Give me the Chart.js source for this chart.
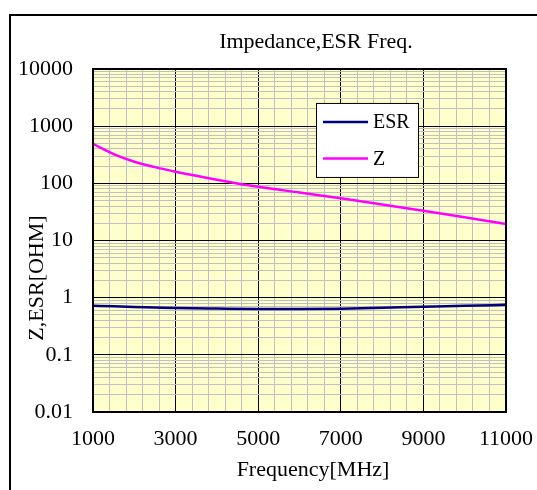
<!DOCTYPE html>
<html>
<head>
<meta charset="utf-8">
<script src="https://cdn.jsdelivr.net/npm/chart.js@4.4.0/dist/chart.umd.min.js"></script>
<style>
  html, body { margin: 0; padding: 0; background: #fff; overflow: hidden; }
  #wrap { position: relative; width: 537px; height: 490px; overflow: hidden; }
  #frame { position: absolute; left: 9px; top: 14px; width: 600px; height: 600px; border-left: 2px solid #000; border-top: 2px solid #000; box-sizing: border-box; }
  canvas { position: absolute; left: 0; top: 0; }
</style>
</head>
<body>
<div id="wrap">
  <div id="frame"></div>
  <canvas id="chart" width="537" height="490"></canvas>
</div>
<script>
// ==================== DATA ====================
const freqs = [1000, 1500, 2000, 2500, 3000, 4000, 5000, 6000, 7000, 8000, 9000, 10000, 11000];
const zValues = [488, 324, 239, 192, 160, 116, 87, 69, 55, 42.6, 33.2, 25.5, 19.4];
const esrValues = [0.72, 0.705, 0.69, 0.675, 0.66, 0.645, 0.635, 0.635, 0.64, 0.665, 0.695, 0.72, 0.75];
const xTickLabels = ["1000", "3000", "5000", "7000", "9000", "11000"];
const yTickLabels = ["0.01", "0.1", "1", "10", "100", "1000", "10000"];

const chartTitle = "Impedance,ESR Freq.";
const xTitle = "Frequency[MHz]";
const yTitle = "Z,ESR[OHM]";

const FONT = "'Liberation Serif', 'Times New Roman', serif";

// ==================== PLUGINS ====================
const plotBackground = {
  id: "plotBackground",
  beforeDraw(chart) {
    const { ctx, chartArea: a } = chart;
    ctx.save();
    ctx.fillStyle = "#FFFFCC";
    ctx.fillRect(a.left, a.top, a.right - a.left, a.bottom - a.top);
    ctx.restore();
  }
};

const plotDecor = {
  id: "plotDecor",
  afterDraw(chart) {
    const { ctx, chartArea: a } = chart;
    ctx.save();
    // plot border
    ctx.strokeStyle = "#000";
    ctx.lineWidth = 2;
    ctx.strokeRect(a.left, a.top, a.right - a.left, a.bottom - a.top);

    // titles
    ctx.fillStyle = "#000";
    ctx.font = "22px " + FONT;
    ctx.textAlign = "center";
    ctx.textBaseline = "middle";
    ctx.fillText(chartTitle, 316, 42);
    ctx.fillText(xTitle, 313, 470);
    ctx.save();
    ctx.translate(37, 278);
    ctx.rotate(-Math.PI / 2);
    ctx.fillText(yTitle, 0, 0);
    ctx.restore();

    // legend box
    const w = a.right - a.left, h = a.bottom - a.top;
    const lx = a.left + w * 0.54, ly = a.top + h * 0.099;
    const lw = 102, lh = 74;
    ctx.fillStyle = "#fff";
    ctx.fillRect(lx, ly, lw, lh);
    ctx.strokeStyle = "#000";
    ctx.lineWidth = 1;
    ctx.strokeRect(lx + 0.5, ly + 0.5, lw, lh);
    ctx.font = "20px " + FONT;
    ctx.textAlign = "left";
    chart.data.datasets.forEach((ds, i) => {
      const yy = ly + 19 + i * 36.5;
      ctx.strokeStyle = ds.borderColor;
      ctx.lineWidth = 2.5;
      ctx.beginPath();
      ctx.moveTo(lx + 7, yy);
      ctx.lineTo(lx + 52, yy);
      ctx.stroke();
      ctx.fillStyle = "#000";
      ctx.fillText(ds.label, lx + 57, yy + 1);
    });
    ctx.restore();
  }
};

// ==================== CHART ====================
const isDecade = v => Math.abs(Math.log10(v) - Math.round(Math.log10(v))) < 1e-9;

new Chart(document.getElementById("chart"), {
  type: "line",
  data: {
    labels: freqs,
    datasets: [
      {
        label: "ESR",
        data: freqs.map((f, i) => ({ x: f, y: esrValues[i] })),
        borderColor: "#000080",
        borderWidth: 2.5,
        pointRadius: 0,
        cubicInterpolationMode: "monotone"
      },
      {
        label: "Z",
        data: freqs.map((f, i) => ({ x: f, y: zValues[i] })),
        borderColor: "#FF00FF",
        borderWidth: 2.5,
        pointRadius: 0,
        cubicInterpolationMode: "monotone"
      }
    ]
  },
  options: {
    responsive: false,
    animation: false,
    layout: { padding: { left: 0, right: 31, top: 69, bottom: 0 } },
    plugins: {
      legend: { display: false },
      title: { display: false },
      tooltip: { enabled: false }
    },
    scales: {
      x: {
        type: "linear",
        min: 1000,
        max: 11000,
        afterFit(scale) {
          scale.height = 78;
          scale.paddingLeft = 0;
          scale.paddingRight = 0;
        },
        afterBuildTicks(scale) {
          const ticks = [];
          for (let v = 1000; v <= 11000; v += 400) ticks.push({ value: v });
          scale.ticks = ticks;
        },
        border: { display: false },
        grid: {
          drawTicks: false,
          color: ctx => (ctx.tick && xTickLabels.includes(String(ctx.tick.value)) ? "#000" : "#C0C0C0"),
          lineWidth: 1
        },
        ticks: {
          autoSkip: false,
          maxRotation: 0,
          padding: 14,
          color: "#000",
          font: { family: FONT, size: 22 },
          callback: v => (xTickLabels.includes(String(v)) ? String(v) : "")
        }
      },
      y: {
        type: "logarithmic",
        min: 0.01,
        max: 10000,
        afterFit(scale) {
          scale.width = 93;
          scale.paddingTop = 0;
          scale.paddingBottom = 0;
        },
        afterBuildTicks(scale) {
          const ticks = [];
          yTickLabels.forEach((lab, i) => {
            const base = parseFloat(lab);
            if (i === yTickLabels.length - 1) { ticks.push({ value: base }); return; }
            for (let m = 1; m <= 9; m++) ticks.push({ value: +(base * m).toPrecision(6) });
          });
          scale.ticks = ticks;
        },
        border: { display: false },
        grid: {
          drawTicks: false,
          color: ctx => (ctx.tick && isDecade(ctx.tick.value) ? "#000" : "#C0C0C0"),
          lineWidth: 1
        },
        ticks: {
          autoSkip: false,
          padding: 20,
          color: "#000",
          font: { family: FONT, size: 22 },
          callback: v => {
            const s = yTickLabels.find(l => Math.abs(parseFloat(l) - v) < 1e-9 * Math.max(1, v));
            return s || "";
          }
        }
      }
    }
  },
  plugins: [plotBackground, plotDecor]
});
</script>
</body>
</html>
